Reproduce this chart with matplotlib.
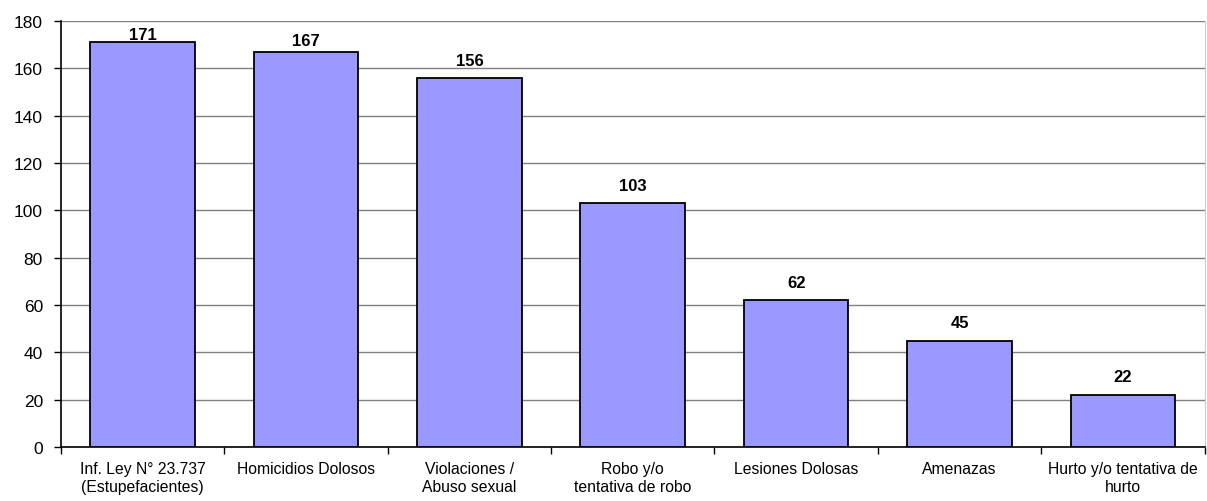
import matplotlib
matplotlib.use("Agg")
import matplotlib.pyplot as plt
import numpy as np

categories = ["Inf. Ley N° 23.737\n(Estupefacientes)", "Homicidios Dolosos",
              "Violaciones /\nAbuso sexual", "Robo y/o\ntentativa de robo",
              "Lesiones Dolosas", "Amenazas", "Hurto y/o tentativa de\nhurto"]
values = [171, 167, 156, 103, 62, 45, 22]
yticks = [0, 20, 40, 60, 80, 100, 120, 140, 160, 180]

# label gap above bar (points), top bars squeezed under the plot edge
label_gap = [6, 8, 12.5, 13, 13, 13, 13]

plt.rcParams['font.family'] = ['Liberation Sans', 'DejaVu Sans']

fig = plt.figure(figsize=(12.07, 5.02), dpi=100)
ax = fig.add_axes([0.0505, 0.1076, 0.9475, 0.8484])

x = np.arange(len(categories))
ax.bar(x, values, width=0.64, color='#9999FF', edgecolor='black', linewidth=1.3, zorder=3)
for xi, v, g in zip(x, values, label_gap):
    ax.annotate(str(v), (xi, v), xytext=(0, g), textcoords='offset points',
                ha='center', va='center', fontsize=12, fontweight='bold')

ax.set_xlim(-0.5, len(categories) - 0.5)
ax.set_ylim(0, 180)
ax.set_yticks(yticks)
ax.tick_params(axis='y', labelsize=12.5, length=5, width=1, direction='out', pad=8)
ax.yaxis.grid(True, color='#808080', linewidth=1, zorder=0)

ax.set_xticks(x)
ax.set_xticklabels(categories, fontsize=11.3, linespacing=1.25)
ax.tick_params(axis='x', length=0, pad=10)
ax.set_xticks(np.arange(len(categories) + 1) - 0.5, minor=True)
ax.tick_params(axis='x', which='minor', length=5, width=1, direction='out')

ax.spines['top'].set_visible(False)
ax.spines['right'].set_color('#cccccc')
ax.spines['left'].set_linewidth(1.2)
ax.spines['bottom'].set_linewidth(1.2)

fig.savefig("out.png", dpi=100)
